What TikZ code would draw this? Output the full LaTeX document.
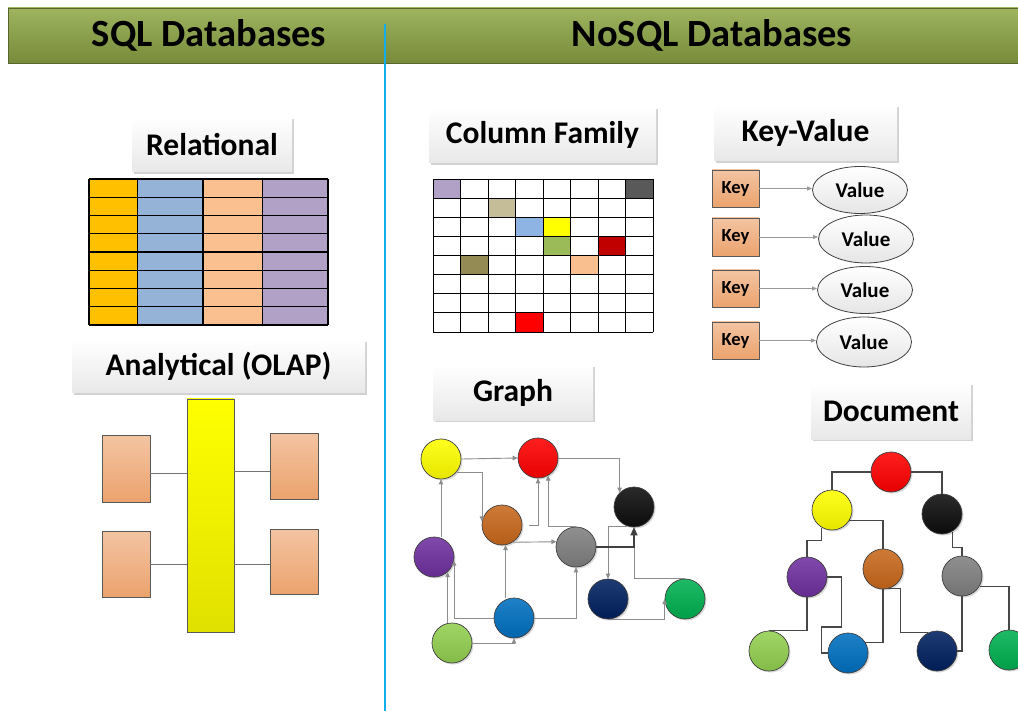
\documentclass[tikz,border=0pt]{standalone}
\usepackage{fontspec}
\setmainfont{Carlito}
\usetikzlibrary{arrows.meta,shadows,calc,shapes.geometric}
\definecolor{hdrtop}{HTML}{9EB45F}
\definecolor{hdrbot}{HTML}{778B3A}
\definecolor{hdrline}{HTML}{59652D}
\definecolor{divider}{HTML}{12AEEA}
\definecolor{cOrange}{HTML}{FFC000}
\definecolor{cBlue}{HTML}{95B3D7}
\definecolor{cPeach}{HTML}{FAC090}
\definecolor{cPurple}{HTML}{B2A1C7}
\definecolor{peachTop}{HTML}{F3C4A2}
\definecolor{peachBot}{HTML}{EBA36D}
\definecolor{bYellow}{HTML}{FFFF00}
\definecolor{bRed}{HTML}{FF0000}
\definecolor{bBlack}{HTML}{0D0D0D}
\definecolor{bOrange}{HTML}{C8681C}
\definecolor{bGray}{HTML}{808080}
\definecolor{bPurple}{HTML}{7030A0}
\definecolor{bNavy}{HTML}{002060}
\definecolor{bGreen}{HTML}{00B050}
\definecolor{bBlue}{HTML}{0070C0}
\definecolor{bLime}{HTML}{92D050}
\definecolor{gPurple}{HTML}{B2A1C7}
\definecolor{gDark}{HTML}{595959}
\definecolor{gTan}{HTML}{C4BD97}
\definecolor{gBlue}{HTML}{8DB4E2}
\definecolor{gYellow}{HTML}{FFFF00}
\definecolor{gGreen}{HTML}{9BBB59}
\definecolor{gDkRed}{HTML}{C00000}
\definecolor{gOlive}{HTML}{948A54}
\definecolor{gPeach}{HTML}{FABF8F}
\definecolor{gRed}{HTML}{FF0000}
\begin{document}
\begin{tikzpicture}[x=1pt,y=-1pt,
  hbar/.style={draw=hdrline, line width=0.8pt, top color=hdrtop, bottom color=hdrbot, inner sep=0pt},
  htext/.style={font=\bfseries\fontsize{38.5}{44}\selectfont, inner sep=0pt},
  lbl/.style={inner sep=0pt, minimum height=55pt, top color=white, bottom color=black!9,
     drop shadow={shadow xshift=2pt, shadow yshift=-2pt, fill=black!35, opacity=0.5},
     font=\bfseries\fontsize{31.5}{36}\selectfont},
  tline/.style={draw=black, line width=1.1pt},
  gline/.style={draw=black, line width=0.9pt},
  pbox/.style={draw=black!65, line width=0.8pt, top color=peachTop, bottom color=peachBot, inner sep=0pt},
  olapline/.style={draw=black!55, line width=1pt},
  keybox/.style={pbox, minimum width=47pt, minimum height=37pt, font=\bfseries\fontsize{18.5}{22}\selectfont},
  valell/.style={ellipse, draw=black!75, line width=0.8pt, top color=white, bottom color=black!10,
     minimum width=95pt, minimum height=47pt, inner sep=0pt, font=\bfseries\fontsize{21}{25}\selectfont},
  kv/.style={draw=black!40, line width=0.9pt, -{Triangle[length=5pt,width=4pt]}},
  ball/.style={circle, minimum size=40pt, inner sep=0pt, draw=black!75, line width=0.7pt,
     top color=#1!88!white, bottom color=#1!90!black,
     drop shadow={shadow xshift=1.5pt, shadow yshift=-1.5pt, fill=black!30, opacity=0.5}},
  ge/.style={draw=black!45, line width=0.9pt, -{Triangle[length=5pt,width=4.5pt]}},
  gedark/.style={draw=black!75, line width=1.4pt, -{Triangle[length=8pt,width=7pt]}},
  de/.style={draw=black!72, line width=1.3pt}
]
\useasboundingbox (0,0) rectangle (1018,711);
\fill[white] (0,0) rectangle (1018,711);

% header
\node[hbar, minimum width=1016pt, minimum height=55pt] (bar) at (516,35.5) {};
\node[htext] (sqlt) at (209,35) {SQL Databases};
\node[htext] (nosqlt) at (712,35) {NoSQL Databases};
\coordinate (divtop) at (385,24);
\coordinate (divbot) at (385,711);
\draw[divider, line width=2.6pt] (divtop) -- (divbot);

% ---------- Relational ----------
\node[lbl, minimum width=160pt] (rel) at (212,144.5) {Relational};
\foreach \xa/\xb/\c in {89/137.7/cOrange,137.7/203/cBlue,203/262.7/cPeach,262.7/328/cPurple}
  \fill[\c] (\xa,179) rectangle (\xb,325);
\foreach \i in {0,...,8} \draw[tline] (89,{179+\i*18.25}) -- (328,{179+\i*18.25});
\foreach \xx in {89,137.7,203,262.7,328} \draw[tline] (\xx,179) -- (\xx,325);

% ---------- OLAP ----------
\node[lbl, minimum width=293pt, minimum height=53pt] (olap) at (218.5,366.5) {Analytical (OLAP)};
\node[draw=black!65, line width=0.8pt, top color=bYellow, bottom color=bYellow!88!black,
      minimum width=47pt, minimum height=233pt, inner sep=0pt] (ybar) at (210.5,515.5) {};
\node[pbox, minimum width=48pt, minimum height=67pt] (lb1) at (126,468.5) {};
\node[pbox, minimum width=48pt, minimum height=66pt] (lb2) at (126,564) {};
\node[pbox, minimum width=48pt, minimum height=66pt] (rb1) at (294,466) {};
\node[pbox, minimum width=48pt, minimum height=65pt] (rb2) at (294,561.5) {};
\draw[olapline] ([yshift=-4.5pt]lb1.east) -- ([yshift=-4.5pt]lb1.east -| ybar.west);
\draw[olapline] (lb2.east) -- (lb2.east -| ybar.west);
\draw[olapline] ([yshift=-5pt]rb1.west) -- ([yshift=-5pt]rb1.west -| ybar.east);
\draw[olapline] ([yshift=-2.5pt]rb2.west) -- ([yshift=-2.5pt]rb2.west -| ybar.east);

% ---------- Column family ----------
\node[lbl, minimum width=227pt, minimum height=56pt] (colf) at (542.5,135) {Column Family};
\foreach \c/\r/\col in {0/0/gPurple,7/0/gDark,2/1/gTan,3/2/gBlue,4/2/gYellow,4/3/gGreen,6/3/gDkRed,1/4/gOlive,5/4/gPeach,3/7/gRed}
  \fill[\col] ({433+\c*27.5},{179+\r*19.125}) rectangle ++(27.5,19.125);
\foreach \i in {0,...,8} \draw[gline] (433,{179+\i*19.125}) -- (653,{179+\i*19.125});
\foreach \i in {0,...,8} \draw[gline] ({433+\i*27.5},179) -- ({433+\i*27.5},332);

% ---------- Key-Value ----------
\node[lbl, minimum width=183pt, minimum height=56pt] (kvl) at (805.5,133) {Key-Value};
\node[keybox] (k1) at (735.5,188.5) {Key};
\node[keybox, minimum height=38pt] (k2) at (735.5,237) {Key};
\node[keybox] (k3) at (735.5,288.5) {Key};
\node[keybox] (k4) at (735.5,340.5) {Key};
\node[valell] (v1) at (860,190) {Value};
\node[valell, minimum height=48pt] (v2) at (866,239) {Value};
\node[valell] (v3) at (865,290) {Value};
\node[valell, minimum height=50pt] (v4) at (864,342) {Value};
\draw[kv] (k1.east) -- (k1.east -| v1.west);
\draw[kv] (k2.east) -- (k2.east -| v2.west);
\draw[kv] (k3.east) -- (k3.east -| v3.west);
\draw[kv] (k4.east) -- (k4.east -| v4.west);

% ---------- Graph ----------
\node[lbl, minimum width=160pt] (grl) at (513,392.5) {Graph};
\node[ball=bYellow] (gyel) at (441,459) {};
\node[ball=bRed] (gred) at (538,458) {};
\node[ball=bBlack] (gblk) at (634,507) {};
\node[ball=bOrange] (gora) at (502,525) {};
\node[ball=bGray] (ggry) at (576,547) {};
\node[ball=bPurple] (gpur) at (434,557) {};
\node[ball=bNavy] (gnav) at (608,599) {};
\node[ball=bGreen] (ggrn) at (685,599) {};
\node[ball=bBlue] (gblu) at (514,618) {};
\node[ball=bLime] (glg) at (452,643) {};
\draw[ge] (gyel.east) -- (gred.west);
\draw[ge] (gred.east) -| (gblk.135);
\draw[ge] (gyel.-40) -| (gora.170);
\draw[ge] (gpur.north -| gyel.south) -- (gyel.south);
\draw[ge] ([xshift=7pt]gora.east) -| (gred.south);
\draw[ge] (ggry.north) -| (gred.-60);
\draw[ge] (gora.-58) -- (ggry.165);
\draw[ge] (gblk.-110) -| (gnav.north);
\draw[ge] (ggrn.north) -| (gblk.south);
\draw[ge] (gnav.south) -| (ggrn.west);
\draw[ge] (gblu.west) -| (gpur.-10);
\draw[ge] (gora.-80 |- gblu.north) -- (gora.-80);
\draw[ge] (gblu.east) -| (ggry.south);
\draw[ge] (gpur.-48 |- glg.north) -- (gpur.-48);
\draw[ge] (glg.east) -| (gblu.south);
\draw[gedark] (ggry.east) -| (gblk.south);

% ---------- Document ----------
\node[lbl, minimum width=160pt, minimum height=56pt] (docl) at (891,411) {Document};
\node[ball=bRed] (dred) at (891,472) {};
\node[ball=bYellow] (dyel) at (832,510) {};
\node[ball=bBlack] (dblk) at (942,514) {};
\node[ball=bPurple] (dpur) at (807,577) {};
\node[ball=bOrange] (dora) at (883,569) {};
\node[ball=bGray] (dgry) at (962,576) {};
\node[ball=bLime] (dlg) at (769,651) {};
\node[ball=bBlue] (dblu) at (848,653) {};
\node[ball=bNavy] (dnav) at (937,651) {};
\node[ball=bGreen] (dgrn) at (1009,650) {};
\draw[de] (dred.west) -| (dyel.north);
\draw[de] (dred.east) -| (dblk.north);
\draw[de] (dyel.240) |- ($(dpur.north)+(0,-16)$) -- (dpur.north);
\draw[de] (dyel.-32) -| (dora.north);
\draw[de] (dblk.-60) |- ($(dgry.north)+(0,-8)$) -- (dgry.north);
\draw[de] (dpur.south) |- (dlg.north);
\draw[de] (dpur.east) -- ++(14,0) |- ($(dblu.west)+(-6,-26)$) |- (dblu.west);
\draw[de] (dora.south) |- (dblu.32);
\draw[de] (dora.-75) -- ++(12,0) |- (dnav.115);
\draw[de] (dgry.south) |- (dnav.east);
\draw[de] (dgry.-30) -| (dgrn.north);
\end{tikzpicture}
\end{document}
